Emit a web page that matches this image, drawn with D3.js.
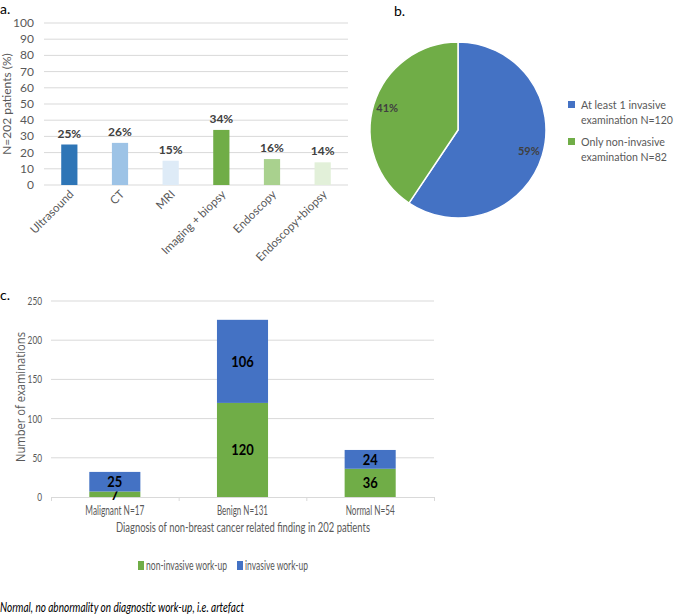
<!DOCTYPE html>
<meta charset="utf-8">
<style>
    body {
        margin: 0;
        background: #fff;
        font-family: Lato, "Open Sans", sans-serif;
    }

    .grid line {
        stroke: #d9d9d9;
        stroke-width: 1px;
    }

    .tick-label {
        fill: #595959;
        font-size: 12px;
    }
</style>

<body>
    <script src="https://d3js.org/d3.v7.min.js"></script>
    <script>
        // Panel a: examination types
        var examTypes = ["Ultrasound", "CT", "MRI", "Imaging + biopsy", "Endoscopy", "Endoscopy+biopsy"];
        var examPercent = [25, 26, 15, 34, 16, 14];
        var examColors = ["#2E75B6", "#9DC3E6", "#DEEBF7", "#70AD47", "#A9D18E", "#E2F0D9"];
        var ticksA = [0, 10, 20, 30, 40, 50, 60, 70, 80, 90, 100];

        // Panel b: invasive vs non-invasive
        var pieLegend = [["At least 1 invasive", "examination N=120"], ["Only non-invasive", "examination N=82"]];
        var pieValues = [120, 82];
        var piePercent = ["59%", "41%"];
        var pieColors = ["#4472C4", "#70AD47"];

        // Panel c: diagnosis vs work-up
        var diagnoses = ["Malignant N=17", "Benign N=131", "Normal N=54"];
        var nonInvasive = [7, 120, 36];
        var invasive = [25, 106, 24];
        var workupSeries = ["non-invasive work-up", "invasive work-up"];
        var workupColors = ["#70AD47", "#4472C4"];
        var ticksC = [0, 50, 100, 150, 200, 250];

        var width = 675,
            height = 615;

        var svg = d3.select("body").append("svg")
            .attr("width", width)
            .attr("height", height);

        // squeeze a text to a given width (source font is narrower than ours)
        function fit(sel, w) {
            sel.attr("textLength", w).attr("lengthAdjust", "spacingAndGlyphs");
        }

        // ---------- panel a ----------
        svg.append("text").attr("x", 0).attr("y", 14)
            .style("font-size", "14px").style("fill", "#000").text("a.");

        var xa = d3.scaleBand()
            .domain(examTypes)
            .range([44, 348])
            .paddingInner(0.68)
            .paddingOuter(0.34);

        var ya = d3.scaleLinear()
            .domain([0, 100])
            .range([185, 23]);

        var ga = svg.append("g");

        ga.append("g").attr("class", "grid")
            .selectAll("line")
            .data(ticksA)
            .enter().append("line")
            .attr("x1", 44).attr("x2", 348)
            .attr("y1", function (d) { return ya(d); })
            .attr("y2", function (d) { return ya(d); });

        ga.selectAll(".tick-label")
            .data(ticksA)
            .enter().append("text")
            .attr("class", "tick-label")
            .attr("x", 34)
            .attr("y", function (d) { return ya(d) + 4; })
            .attr("text-anchor", "end")
            .text(function (d) { return d; });

        ga.append("text")
            .attr("transform", "translate(11,104) rotate(-90)")
            .attr("text-anchor", "middle")
            .style("font-size", "12px").style("fill", "#595959")
            .text("N=202 patients (%)");

        ga.selectAll(".bar")
            .data(examTypes)
            .enter().append("rect")
            .attr("class", "bar")
            .attr("x", function (d) { return xa(d); })
            .attr("width", xa.bandwidth())
            .attr("y", function (d, i) { return ya(examPercent[i]); })
            .attr("height", function (d, i) { return ya(0) - ya(examPercent[i]); })
            .attr("fill", function (d, i) { return examColors[i]; });

        ga.selectAll(".val")
            .data(examTypes)
            .enter().append("text")
            .attr("class", "val")
            .attr("x", function (d) { return xa(d) + xa.bandwidth() / 2; })
            .attr("y", function (d, i) { return ya(examPercent[i]) - 7; })
            .attr("text-anchor", "middle")
            .style("font-size", "12px").style("font-weight", "bold").style("fill", "#404040")
            .text(function (d, i) { return examPercent[i] + "%"; });

        ga.selectAll(".cat")
            .data(examTypes)
            .enter().append("text")
            .attr("class", "cat")
            .attr("transform", function (d) {
                return "translate(" + (xa(d) + xa.bandwidth() / 2 + 5) + ",195) rotate(-45)";
            })
            .attr("text-anchor", "end")
            .style("font-size", "11.5px").style("fill", "#595959")
            .text(function (d) { return d; });

        // ---------- panel b ----------
        svg.append("text").attr("x", 394).attr("y", 16)
            .style("font-size", "14px").style("fill", "#000").text("b.");

        var pie = d3.pie().sort(null);
        var arcs = pie(pieValues);
        var arc = d3.arc().innerRadius(0).outerRadius(88);
        var labelArc = d3.arc().innerRadius(74).outerRadius(74);

        var gb = svg.append("g").attr("transform", "translate(458,130)");

        gb.selectAll("path")
            .data(arcs)
            .enter().append("path")
            .attr("d", arc)
            .attr("fill", function (d, i) { return pieColors[i]; })
            .attr("stroke", "#fff")
            .attr("stroke-width", 1.5);

        gb.selectAll(".plabel")
            .data(arcs)
            .enter().append("text")
            .attr("class", "plabel")
            .attr("transform", function (d) { return "translate(" + labelArc.centroid(d) + ")"; })
            .attr("dy", "0.35em")
            .attr("text-anchor", "middle")
            .style("font-size", "11px").style("font-weight", "bold").style("fill", "#404040")
            .text(function (d, i) { return piePercent[i]; });

        var legB = svg.append("g");
        var legBWidths = [[85, 92], [84, 86]];
        pieLegend.forEach(function (lines, i) {
            var y0 = 105 + i * 37;
            legB.append("rect")
                .attr("x", 568).attr("y", y0 - 4).attr("width", 7).attr("height", 7)
                .attr("fill", pieColors[i]);
            lines.forEach(function (t, j) {
                legB.append("text")
                    .attr("x", 581).attr("y", y0 + 4 + j * 14.5)
                    .style("font-size", "12px").style("fill", "#595959")
                    .text(t)
                    .call(fit, legBWidths[i][j]);
            });
        });

        // ---------- panel c ----------
        svg.append("text").attr("x", 0).attr("y", 300)
            .style("font-size", "14px").style("fill", "#000").text("c.");

        var xc = d3.scaleBand()
            .domain(diagnoses)
            .range([51, 434])
            .paddingInner(0.6)
            .paddingOuter(0.3);

        var yc = d3.scaleLinear()
            .domain([0, 250])
            .range([497, 301]);

        var gc = svg.append("g");

        gc.append("g").attr("class", "grid")
            .selectAll("line")
            .data(ticksC.slice(1))
            .enter().append("line")
            .attr("x1", 51).attr("x2", 434)
            .attr("y1", function (d) { return yc(d); })
            .attr("y2", function (d) { return yc(d); });

        // category axis with ticks between categories
        var xAxis = d3.axisBottom(d3.scaleLinear().domain([0, 3]).range([51, 434]))
            .tickValues([0, 1, 2, 3])
            .tickSize(4)
            .tickFormat("");
        gc.append("g")
            .attr("transform", "translate(0," + yc(0) + ")")
            .call(xAxis)
            .call(function (g) { g.selectAll("path, line").attr("stroke", "#d9d9d9"); });

        gc.selectAll(".tick-label")
            .data(ticksC)
            .enter().append("text")
            .attr("class", "tick-label")
            .attr("x", 42)
            .attr("y", function (d) { return yc(d) + 4; })
            .attr("text-anchor", "end")
            .style("font-size", "12px")
            .text(function (d) { return d; })
            .each(function (d) { d3.select(this).call(fit, String(d).length * 4.8); });

        gc.append("text")
            .attr("transform", "translate(25,397) rotate(-90)")
            .attr("text-anchor", "middle")
            .style("font-size", "12px").style("fill", "#595959")
            .style("font-family", "'Open Sans', sans-serif")
            .text("Number of examinations")
            .call(fit, 130);

        var stackData = diagnoses.map(function (d, i) {
            return { cat: d, nonInvasive: nonInvasive[i], invasive: invasive[i] };
        });
        var series = d3.stack().keys(["nonInvasive", "invasive"])(stackData);

        var layer = gc.selectAll(".layer")
            .data(series)
            .enter().append("g")
            .attr("class", "layer")
            .attr("fill", function (d, i) { return workupColors[i]; });

        layer.selectAll("rect")
            .data(function (d) { return d; })
            .enter().append("rect")
            .attr("x", function (d) { return xc(d.data.cat); })
            .attr("width", xc.bandwidth())
            .attr("y", function (d) { return yc(d[1]); })
            .attr("height", function (d) { return yc(d[0]) - yc(d[1]); });

        layer.selectAll("text")
            .data(function (d) { return d; })
            .enter().append("text")
            .attr("x", function (d) { return xc(d.data.cat) + xc.bandwidth() / 2; })
            .attr("y", function (d) { return (yc(d[0]) + yc(d[1])) / 2; })
            .attr("dy", "0.35em")
            .attr("text-anchor", "middle")
            .style("font-size", "15px").style("font-weight", "bold").style("fill", "#000")
            .text(function (d) { return d[1] - d[0]; })
            .each(function (d) { d3.select(this).call(fit, String(d[1] - d[0]).length * 7.5); });

        var catWidths = [59, 51, 49];
        gc.selectAll(".cat")
            .data(diagnoses)
            .enter().append("text")
            .attr("class", "cat")
            .attr("x", function (d) { return xc(d) + xc.bandwidth() / 2; })
            .attr("y", 515)
            .attr("text-anchor", "middle")
            .style("font-size", "13px").style("fill", "#595959")
            .text(function (d) { return d; })
            .each(function (d, i) { d3.select(this).call(fit, catWidths[i]); });

        gc.append("text")
            .attr("x", 243).attr("y", 532)
            .attr("text-anchor", "middle")
            .style("font-size", "14px").style("fill", "#595959")
            .text("Diagnosis of non-breast cancer related finding in 202 patients")
            .call(fit, 254);

        var legC = gc.append("g");
        var legX = [138, 237];
        var legCWidths = [81, 63];
        workupSeries.forEach(function (s, i) {
            legC.append("rect")
                .attr("x", legX[i]).attr("y", 561).attr("width", 6).attr("height", 9)
                .attr("fill", workupColors[i]);
            legC.append("text")
                .attr("x", legX[i] + 8).attr("y", 570)
                .style("font-size", "13px").style("fill", "#595959")
                .text(s)
                .call(fit, legCWidths[i]);
        });

        svg.append("text")
            .attr("x", 0).attr("y", 612)
            .style("font-size", "13px").style("font-style", "italic").style("fill", "#000")
            .text("Normal, no abnormality on diagnostic work-up, i.e. artefact")
            .call(fit, 244);
    </script>
</body>
